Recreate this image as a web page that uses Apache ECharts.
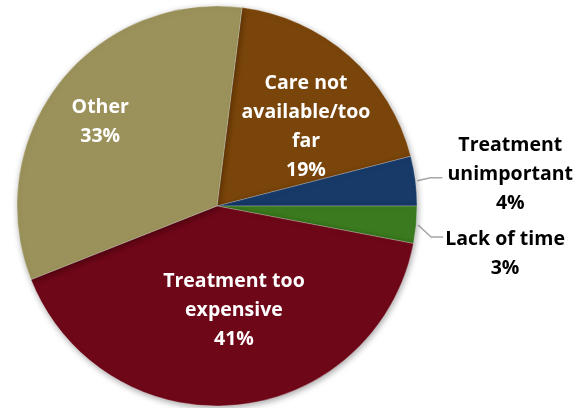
<!DOCTYPE html>
<html>
<head>
<meta charset="utf-8">
<script src="https://cdn.jsdelivr.net/npm/echarts@6/dist/echarts.min.js"></script>
<style>
  html, body { margin: 0; padding: 0; background: #fff; }
  #chart { width: 577px; height: 408px; }
</style>
</head>
<body>
<div id="chart"></div>
<script>
// Reasons for not seeking treatment (share of respondents)
const categories = ['Care not\navailable/too\nfar', 'Treatment\nunimportant', 'Lack of time', 'Treatment too\nexpensive', 'Other'];
const shares = [19, 4, 3, 41, 33];
const sliceColors = ['#7a450a', '#173a68', '#3b7a1e', '#6e0819', '#9b915a'];

// Label placement: radius as a fraction of the pie radius, plus angular nudge (deg)
const labelRadius = [0.595, 1.475, 1.46, 0.53, 0.72];
const labelNudge = [7, 1, 4, -3.8, -2];
const outsideLabel = [false, true, true, false, false];
const leaderBend = [-3, 12];

const cx = 217, cy = 206, R = 200;
const startCompass = 7.2; // degrees clockwise from 12 o'clock

const total = shares.reduce((a, b) => a + b, 0);
const midAngles = [];
let acc = startCompass;
shares.forEach(v => {
  const span = v / total * 360;
  midAngles.push(acc + span / 2);
  acc += span;
});

function polar(deg, r) {
  const a = deg * Math.PI / 180;
  return [cx + r * Math.sin(a), cy - r * Math.cos(a)];
}

const chart = echarts.init(document.getElementById('chart'), null, { renderer: 'canvas' });

chart.setOption({
  animation: false,
  backgroundColor: '#ffffff',
  series: [{
    type: 'pie',
    center: [cx, cy],
    radius: [0, R],
    startAngle: 90 - startCompass,
    clockwise: true,
    avoidLabelOverlap: false,
    itemStyle: {
      borderColor: 'rgba(255,255,255,0.25)',
      borderWidth: 1,
      shadowBlur: 6,
      shadowColor: 'rgba(0,0,0,0.35)',
      shadowOffsetX: 1,
      shadowOffsetY: 2
    },
    label: {
      show: true,
      fontFamily: 'Open Sans',
      fontWeight: 'bold',
      fontSize: 19.5,
      lineHeight: 29,
      align: 'center',
      formatter: p => p.name + '\n' + p.value + '%'
    },
    labelLine: {
      show: true,
      lineStyle: { color: '#a6a6a6', width: 1.5 }
    },
    labelLayout: function (p) {
      const i = p.dataIndex;
      const pos = polar(midAngles[i] + labelNudge[i], labelRadius[i] * R);
      const out = { x: pos[0], y: pos[1], align: 'center', verticalAlign: 'middle' };
      if (outsideLabel[i]) {
        const p1 = polar(midAngles[i], R * 1.01);
        const p2 = [p1[0] + 13, p1[1] + leaderBend[i - 1]];
        const p3 = [p2[0] + 12, p2[1]];
        out.labelLinePoints = [p1, p2, p3];
      }
      return out;
    },
    data: categories.map((name, i) => ({
      name: name,
      value: shares[i],
      itemStyle: { color: sliceColors[i] },
      label: { color: outsideLabel[i] ? '#000000' : '#ffffff' },
      labelLine: { show: outsideLabel[i] }
    }))
  }]
});
</script>
</body>
</html>
